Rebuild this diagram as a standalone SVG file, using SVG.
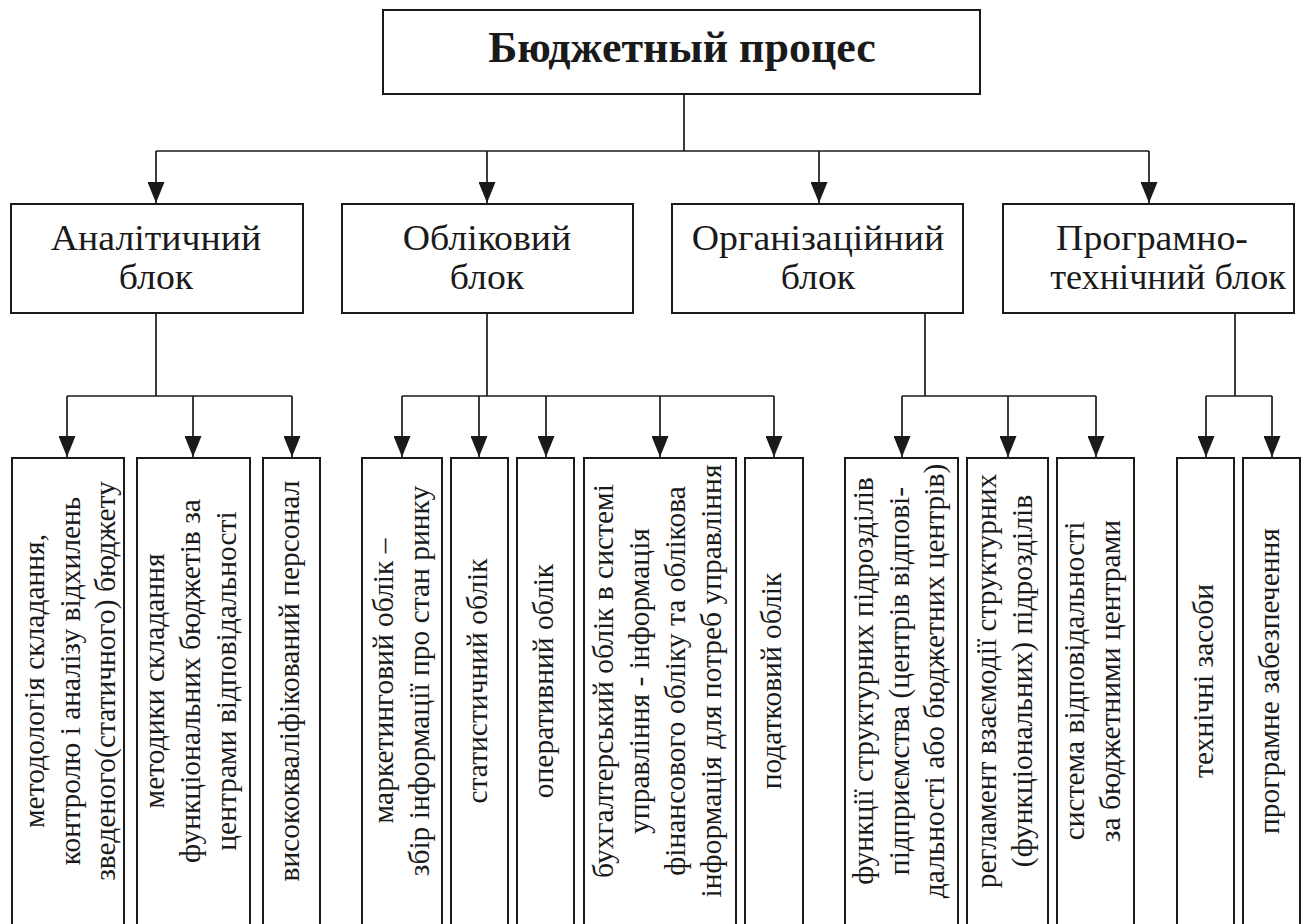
<svg xmlns="http://www.w3.org/2000/svg" width="1305" height="924" viewBox="0 0 1305 924">
<defs>
<style>
.box{fill:#fff;stroke:#1a1a1a;stroke-width:2}
.ln{fill:none;stroke:#1a1a1a;stroke-width:1.7}
.t{font-family:'Liberation Serif','Times New Roman',serif;fill:#1a1a1a;text-anchor:middle}
.title{font-size:44px;font-weight:bold}
.blk{font-size:35px}
.v{font-size:29.5px}
</style>
<marker id="ah" markerUnits="userSpaceOnUse" markerWidth="22" markerHeight="17" refX="21" refY="8.5" orient="auto" viewBox="0 0 22 17">
<path d="M0,0 L21,8.5 L0,17 Z" fill="#1a1a1a"/>
</marker>
</defs>
<rect width="1305" height="924" fill="#fff"/>

<g id="connectors">
<path class="ln" d="M684,94 V151 M156,151 H1149"/>
<path class="ln" d="M156,151 V203" marker-end="url(#ah)"/>
<path class="ln" d="M487,151 V203" marker-end="url(#ah)"/>
<path class="ln" d="M819,151 V203" marker-end="url(#ah)"/>
<path class="ln" d="M1149,151 V203" marker-end="url(#ah)"/>

<path class="ln" d="M156,313 V396 M67,396 H292"/>
<path class="ln" d="M67,396 V457" marker-end="url(#ah)"/>
<path class="ln" d="M193,396 V457" marker-end="url(#ah)"/>
<path class="ln" d="M292,396 V457" marker-end="url(#ah)"/>

<path class="ln" d="M487,313 V396 M402,396 H774"/>
<path class="ln" d="M402,396 V457" marker-end="url(#ah)"/>
<path class="ln" d="M479,396 V457" marker-end="url(#ah)"/>
<path class="ln" d="M546,396 V457" marker-end="url(#ah)"/>
<path class="ln" d="M660,396 V457" marker-end="url(#ah)"/>
<path class="ln" d="M774,396 V457" marker-end="url(#ah)"/>

<path class="ln" d="M925,313 V396 M902,396 H1096"/>
<path class="ln" d="M902,396 V457" marker-end="url(#ah)"/>
<path class="ln" d="M1008,396 V457" marker-end="url(#ah)"/>
<path class="ln" d="M1096,396 V457" marker-end="url(#ah)"/>

<path class="ln" d="M1235,313 V396 M1206,396 H1272"/>
<path class="ln" d="M1206,396 V457" marker-end="url(#ah)"/>
<path class="ln" d="M1272,396 V457" marker-end="url(#ah)"/>
</g>

<g id="root">
<rect class="box" x="383" y="10" width="597" height="84"/>
<text class="t title" x="682" y="62">Бюджетный процес</text>
</g>

<g id="analytic">
<rect class="box" x="11" y="204" width="292" height="109"/>
<text class="t blk" transform="translate(156,250) scale(1.08,1)">Аналітичний</text>
<text class="t blk" transform="translate(156,289) scale(1.08,1)">блок</text>
</g>
<g id="account">
<rect class="box" x="342" y="204" width="291" height="109"/>
<text class="t blk" transform="translate(487,250) scale(1.08,1)">Обліковий</text>
<text class="t blk" transform="translate(487,289) scale(1.08,1)">блок</text>
</g>
<g id="org">
<rect class="box" x="672" y="204" width="291" height="109"/>
<text class="t blk" transform="translate(818,250) scale(1.08,1)">Організаційний</text>
<text class="t blk" transform="translate(818,289) scale(1.08,1)">блок</text>
</g>
<g id="soft">
<rect class="box" x="1003" y="204" width="291" height="109"/>
<text class="t blk" transform="translate(1152,250) scale(1.08,1)">Програмно-</text>
<text class="t blk" transform="translate(1168,289) scale(1.035,1)">технічний блок</text>
</g>

<g id="a1">
<rect class="box" x="12" y="458" width="112" height="480"/>
<text class="t v" transform="translate(44,681) rotate(-90)"><tspan x="0" y="0">методологія складання,</tspan><tspan x="0" y="35.5">контролю і аналізу відхилень</tspan><tspan x="0" y="71">зведеного(статичного) бюджету</tspan></text>
</g>
<g id="a2">
<rect class="box" x="137" y="458" width="113" height="480"/>
<text class="t v" transform="translate(164,681) rotate(-90)"><tspan x="0" y="0">методики складання</tspan><tspan x="0" y="36">функціональних бюджетів за</tspan><tspan x="0" y="72">центрами відповідальності</tspan></text>
</g>
<g id="a3">
<rect class="box" x="263" y="458" width="57" height="480"/>
<text class="t v" transform="translate(299,681) rotate(-90)">висококваліфікований персонал</text>
</g>

<g id="b1">
<rect class="box" x="362" y="458" width="80" height="480"/>
<text class="t v" transform="translate(393,681) rotate(-90)"><tspan x="0" y="0">маркетинговий облік –</tspan><tspan x="0" y="36">збір інформації про стан ринку</tspan></text>
</g>
<g id="b2">
<rect class="box" x="451" y="458" width="57" height="480"/>
<text class="t v" transform="translate(487,681) rotate(-90)">статистичний облік</text>
</g>
<g id="b3">
<rect class="box" x="517" y="458" width="57" height="480"/>
<text class="t v" transform="translate(553,681) rotate(-90)">оперативний облік</text>
</g>
<g id="b4">
<rect class="box" x="584" y="458" width="152" height="480"/>
<text class="t v" transform="translate(613,681) rotate(-90)"><tspan x="0" y="0">бухгалтерський облік в системі</tspan><tspan x="0" y="36">управління - інформація</tspan><tspan x="0" y="72">фінансового обліку та облікова</tspan><tspan x="0" y="108">інформація для потреб управління</tspan></text>
</g>
<g id="b5">
<rect class="box" x="745" y="458" width="58" height="480"/>
<text class="t v" transform="translate(781,681) rotate(-90)">податковий облік</text>
</g>

<g id="c1">
<rect class="box" x="845" y="458" width="113" height="480"/>
<text class="t v" transform="translate(873,681) rotate(-90)"><tspan x="0" y="0">функції структурних підрозділів</tspan><tspan x="0" y="35.5">підприємства (центрів відпові-</tspan><tspan x="0" y="71">дальності або бюджетних центрів)</tspan></text>
</g>
<g id="c2">
<rect class="box" x="967" y="458" width="81" height="480"/>
<text class="t v" transform="translate(996,681) rotate(-90)"><tspan x="0" y="0">регламент взаємодії структурних</tspan><tspan x="0" y="36">(функціональних) підрозділів</tspan></text>
</g>
<g id="c3">
<rect class="box" x="1057" y="458" width="77" height="480"/>
<text class="t v" transform="translate(1084,681) rotate(-90)"><tspan x="0" y="0">система відповідальності</tspan><tspan x="0" y="36">за бюджетними центрами</tspan></text>
</g>

<g id="d1">
<rect class="box" x="1177" y="458" width="57" height="480"/>
<text class="t v" transform="translate(1213,681) rotate(-90)">технічні засоби</text>
</g>
<g id="d2">
<rect class="box" x="1243" y="458" width="57" height="480"/>
<text class="t v" transform="translate(1279,681) rotate(-90)">програмне забезпечення</text>
</g>
</svg>
